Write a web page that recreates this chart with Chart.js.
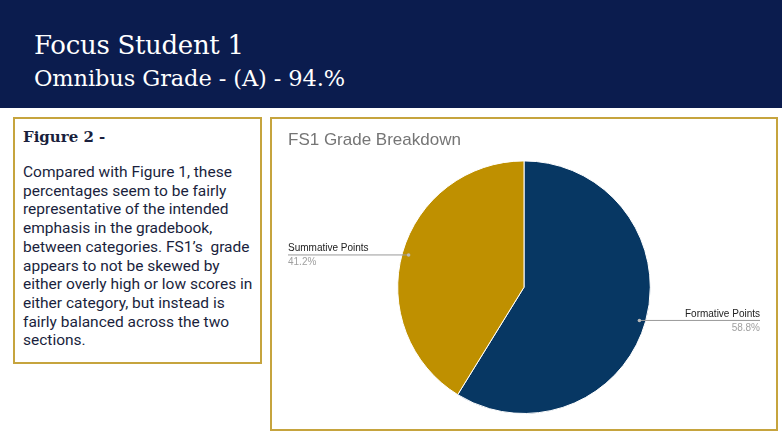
<!DOCTYPE html>
<html>
<head>
<meta charset="utf-8">
<script src="https://cdn.jsdelivr.net/npm/chart.js@4"></script>
<style>
  html, body { margin: 0; padding: 0; background: #fff; }
  body { width: 782px; height: 440px; position: relative; overflow: hidden; }
  .header { position: absolute; left: 0; top: 0; width: 782px; height: 108px; background: #0b1c4e; }
  .header h1 { position: absolute; left: 34px; top: 30px; margin: 0; color: #fff;
    font: 26px "DejaVu Serif", serif; letter-spacing: -0.3px; }
  .header h2 { position: absolute; left: 34px; top: 65px; margin: 0; color: #fff;
    font: 22.5px "DejaVu Serif", serif; font-weight: normal; letter-spacing: -0.1px; }
  .note { position: absolute; left: 13px; top: 117px; width: 249px; height: 247px;
    border: 2px solid #c6a43e; box-sizing: border-box; }
  .note h3 { margin: 0; position: absolute; left: 8px; top: 9px; color: #1a1f3d;
    font: bold 15px "DejaVu Serif", serif; }
  .note p { margin: 0; position: absolute; left: 8px; top: 44px; width: 238px; color: #1a1f3d;
    font: 15.5px Roboto, sans-serif; line-height: 18.7px; }
  .chartbox { position: absolute; left: 270px; top: 117px; width: 508px; height: 314px;
    border: 2px solid #c6a43e; box-sizing: border-box; }
  .chartbox .wrap { position: absolute; left: 0px; top: 0px; width: 504px; height: 310px; }
</style>
</head>
<body>
<div class="header">
  <h1>Focus Student 1</h1>
  <h2>Omnibus Grade - (A) - 94.%</h2>
</div>
<div class="note">
  <h3>Figure 2 -</h3>
  <p>Compared with Figure 1, these percentages seem to be fairly representative of the intended emphasis in the gradebook, between categories. FS1’s&nbsp; grade appears to not be skewed by either overly high or low scores in either category, but instead is fairly balanced across the two sections.</p>
</div>
<div class="chartbox"><div class="wrap"><canvas id="pie"></canvas></div></div>
<script>
const categories = ["Formative Points", "Summative Points"];
const shares = [58.8, 41.2];
const sliceColors = ["#073763", "#bf9000"];

// leader lines + labels like the Sheets pie
const sideLabels = {
    id: 'sideLabels',
    afterDatasetsDraw(chart) {
        const ctx = chart.ctx;
        const area = chart.chartArea;
        const meta = chart.getDatasetMeta(0);
        meta.data.forEach((arc, i) => {
            const mid = (arc.startAngle + arc.endAngle) / 2;
            const r = arc.outerRadius * 0.95;
            const px = arc.x + Math.cos(mid) * r;
            const py = arc.y + Math.sin(mid) * r;
            const left = Math.cos(mid) < 0;
            const ex = left ? area.left : area.right;
            ctx.save();
            ctx.strokeStyle = '#9a9a9a';
            ctx.lineWidth = 1;
            ctx.beginPath();
            ctx.moveTo(px, py + 0.5);
            ctx.lineTo(ex, py + 0.5);
            ctx.stroke();
            ctx.fillStyle = '#b8b8b8';
            ctx.beginPath();
            ctx.arc(px, py + 0.5, 1.8, 0, Math.PI * 2);
            ctx.fill();
            ctx.textAlign = left ? 'left' : 'right';
            ctx.font = '10px "Liberation Sans", Arial, sans-serif';
            ctx.fillStyle = '#222';
            ctx.textBaseline = 'alphabetic';
            ctx.fillText(categories[i], ex, py - 3);
            ctx.fillStyle = '#a0a0a0';
            ctx.textBaseline = 'top';
            ctx.fillText(shares[i].toFixed(1) + '%', ex, py + 3);
            ctx.restore();
        });
    }
};

new Chart(document.getElementById('pie'), {
    type: 'pie',
    data: {
        labels: categories,
        datasets: [{
            data: shares,
            backgroundColor: sliceColors,
            borderColor: '#ffffff',
            borderWidth: 1
        }]
    },
    options: {
        responsive: true,
        maintainAspectRatio: false,
        animation: false,
        layout: { padding: { left: 16, right: 16, top: 0, bottom: 15 } },
        plugins: {
            legend: { display: false },
            tooltip: { enabled: false },
            title: {
                display: true,
                text: 'FS1 Grade Breakdown',
                align: 'start',
                color: '#757575',
                font: { family: '"Liberation Sans", Arial, sans-serif', size: 17, weight: 'normal' },
                padding: { top: 11, bottom: 10 }
            }
        }
    },
    plugins: [sideLabels]
});
</script>
</body>
</html>
